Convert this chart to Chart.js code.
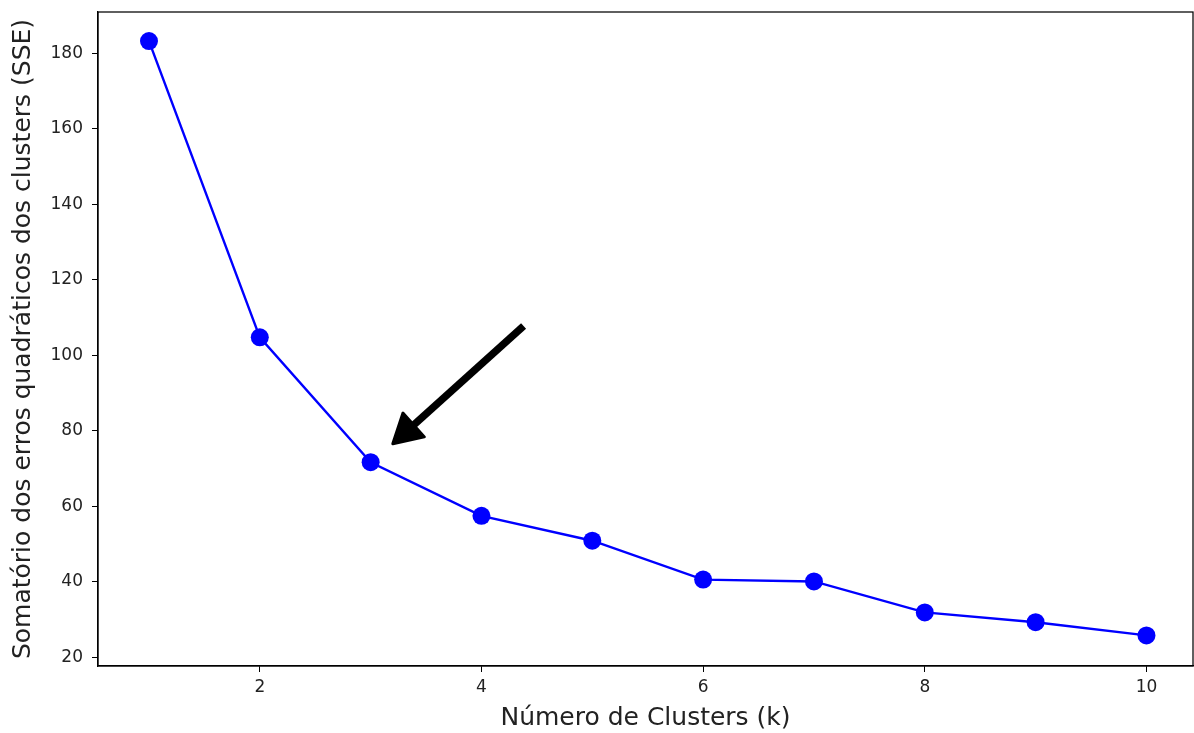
<!DOCTYPE html>
<html>
<head>
<meta charset="utf-8">
<script src="https://cdn.jsdelivr.net/npm/chart.js@4"></script>
<style>
  html, body { margin: 0; padding: 0; background: #fff; }
  #wrap { width: 1194px; height: 733px; }
</style>
</head>
<body>
<div id="wrap"><canvas id="graph" width="1194" height="733"></canvas></div>
<script>
// k values and SSE
const kValues = [1, 2, 3, 4, 5, 6, 7, 8, 9, 10];
const sseValues = [183.3, 104.8, 71.7, 57.5, 50.9, 40.6, 40.1, 31.9, 29.3, 25.8];
const xTicks = [2, 4, 6, 8, 10];
const yTicks = [20, 40, 60, 80, 100, 120, 140, 160, 180];
// arrow annotation: from (tail) to (head), data units
const arrowFrom = [4.38, 107.8];
const arrowTo = [3.2, 76.6];

const font = "'DejaVu Sans', sans-serif";

const framePlugin = {
    id: 'frame',
    afterDatasetsDraw(chart) {
        const { ctx, chartArea: a, scales } = chart;
        ctx.save();
        ctx.strokeStyle = '#000';
        ctx.lineWidth = 1.25;
        ctx.strokeRect(a.left, a.top, a.right - a.left, a.bottom - a.top);

        // the arrow
        const x1 = scales.x.getPixelForValue(arrowFrom[0]);
        const y1 = scales.y.getPixelForValue(arrowFrom[1]);
        const x2 = scales.x.getPixelForValue(arrowTo[0]);
        const y2 = scales.y.getPixelForValue(arrowTo[1]);
        const ang = Math.atan2(y2 - y1, x2 - x1);
        const headLen = 28, headW = 16;
        const bx = x2 - headLen * Math.cos(ang);
        const by = y2 - headLen * Math.sin(ang);
        ctx.strokeStyle = '#000';
        ctx.lineWidth = 7.5;
        ctx.lineCap = 'butt';
        ctx.beginPath();
        ctx.moveTo(x1, y1);
        ctx.lineTo(bx + 4 * Math.cos(ang), by + 4 * Math.sin(ang));
        ctx.stroke();
        ctx.fillStyle = '#000';
        ctx.lineJoin = 'round';
        ctx.lineWidth = 3;
        ctx.beginPath();
        ctx.moveTo(x2, y2);
        ctx.lineTo(bx + headW * Math.sin(ang), by - headW * Math.cos(ang));
        ctx.lineTo(bx - headW * Math.sin(ang), by + headW * Math.cos(ang));
        ctx.closePath();
        ctx.fill();
        ctx.stroke();
        ctx.restore();
    }
};

new Chart(document.getElementById('graph').getContext('2d'), {
    type: 'line',
    data: {
        datasets: [{
            data: kValues.map((k, i) => ({ x: k, y: sseValues[i] })),
            borderColor: '#0000ff',
            backgroundColor: '#0000ff',
            borderWidth: 2.4,
            pointRadius: 9,
            pointBorderWidth: 0,
            pointBackgroundColor: '#0000ff',
            fill: false,
            tension: 0
        }]
    },
    options: {
        responsive: false,
        animation: false,
        layout: { autoPadding: false, padding: { top: 12, right: 1, left: 0, bottom: 0 } },
        plugins: { legend: { display: false }, tooltip: { enabled: false } },
        scales: {
            x: {
                type: 'linear',
                min: 0.54,
                max: 10.42,
                afterBuildTicks: s => { s.ticks = xTicks.map(v => ({ value: v })); },
                afterFit: s => { s.height = 67; s.paddingLeft = 0; s.paddingRight = 0; },
                grid: { drawOnChartArea: false, drawTicks: true, tickLength: 6, color: '#000', lineWidth: 1 },
                border: { color: '#000', width: 1.25 },
                ticks: { color: '#222', font: { family: font, size: 17 }, padding: 5, maxRotation: 0 },
                title: { display: true, text: 'Número de Clusters (k)', color: '#222', font: { family: font, size: 25 }, padding: { top: 4, bottom: 0 } }
            },
            y: {
                type: 'linear',
                min: 17.7,
                max: 191.0,
                afterBuildTicks: s => { s.ticks = yTicks.map(v => ({ value: v })); },
                afterFit: s => { s.width = 98; s.paddingTop = 0; s.paddingBottom = 0; },
                grid: { drawOnChartArea: false, drawTicks: true, tickLength: 6, color: '#000', lineWidth: 1 },
                border: { color: '#000', width: 1.25 },
                ticks: { color: '#222', font: { family: font, size: 17 }, padding: 9 },
                title: { display: true, text: 'Somatório dos erros quadráticos dos clusters (SSE)', color: '#222', font: { family: font, size: 25 }, padding: { top: 8, bottom: 6 } }
            }
        }
    },
    plugins: [framePlugin]
});
</script>
</body>
</html>
